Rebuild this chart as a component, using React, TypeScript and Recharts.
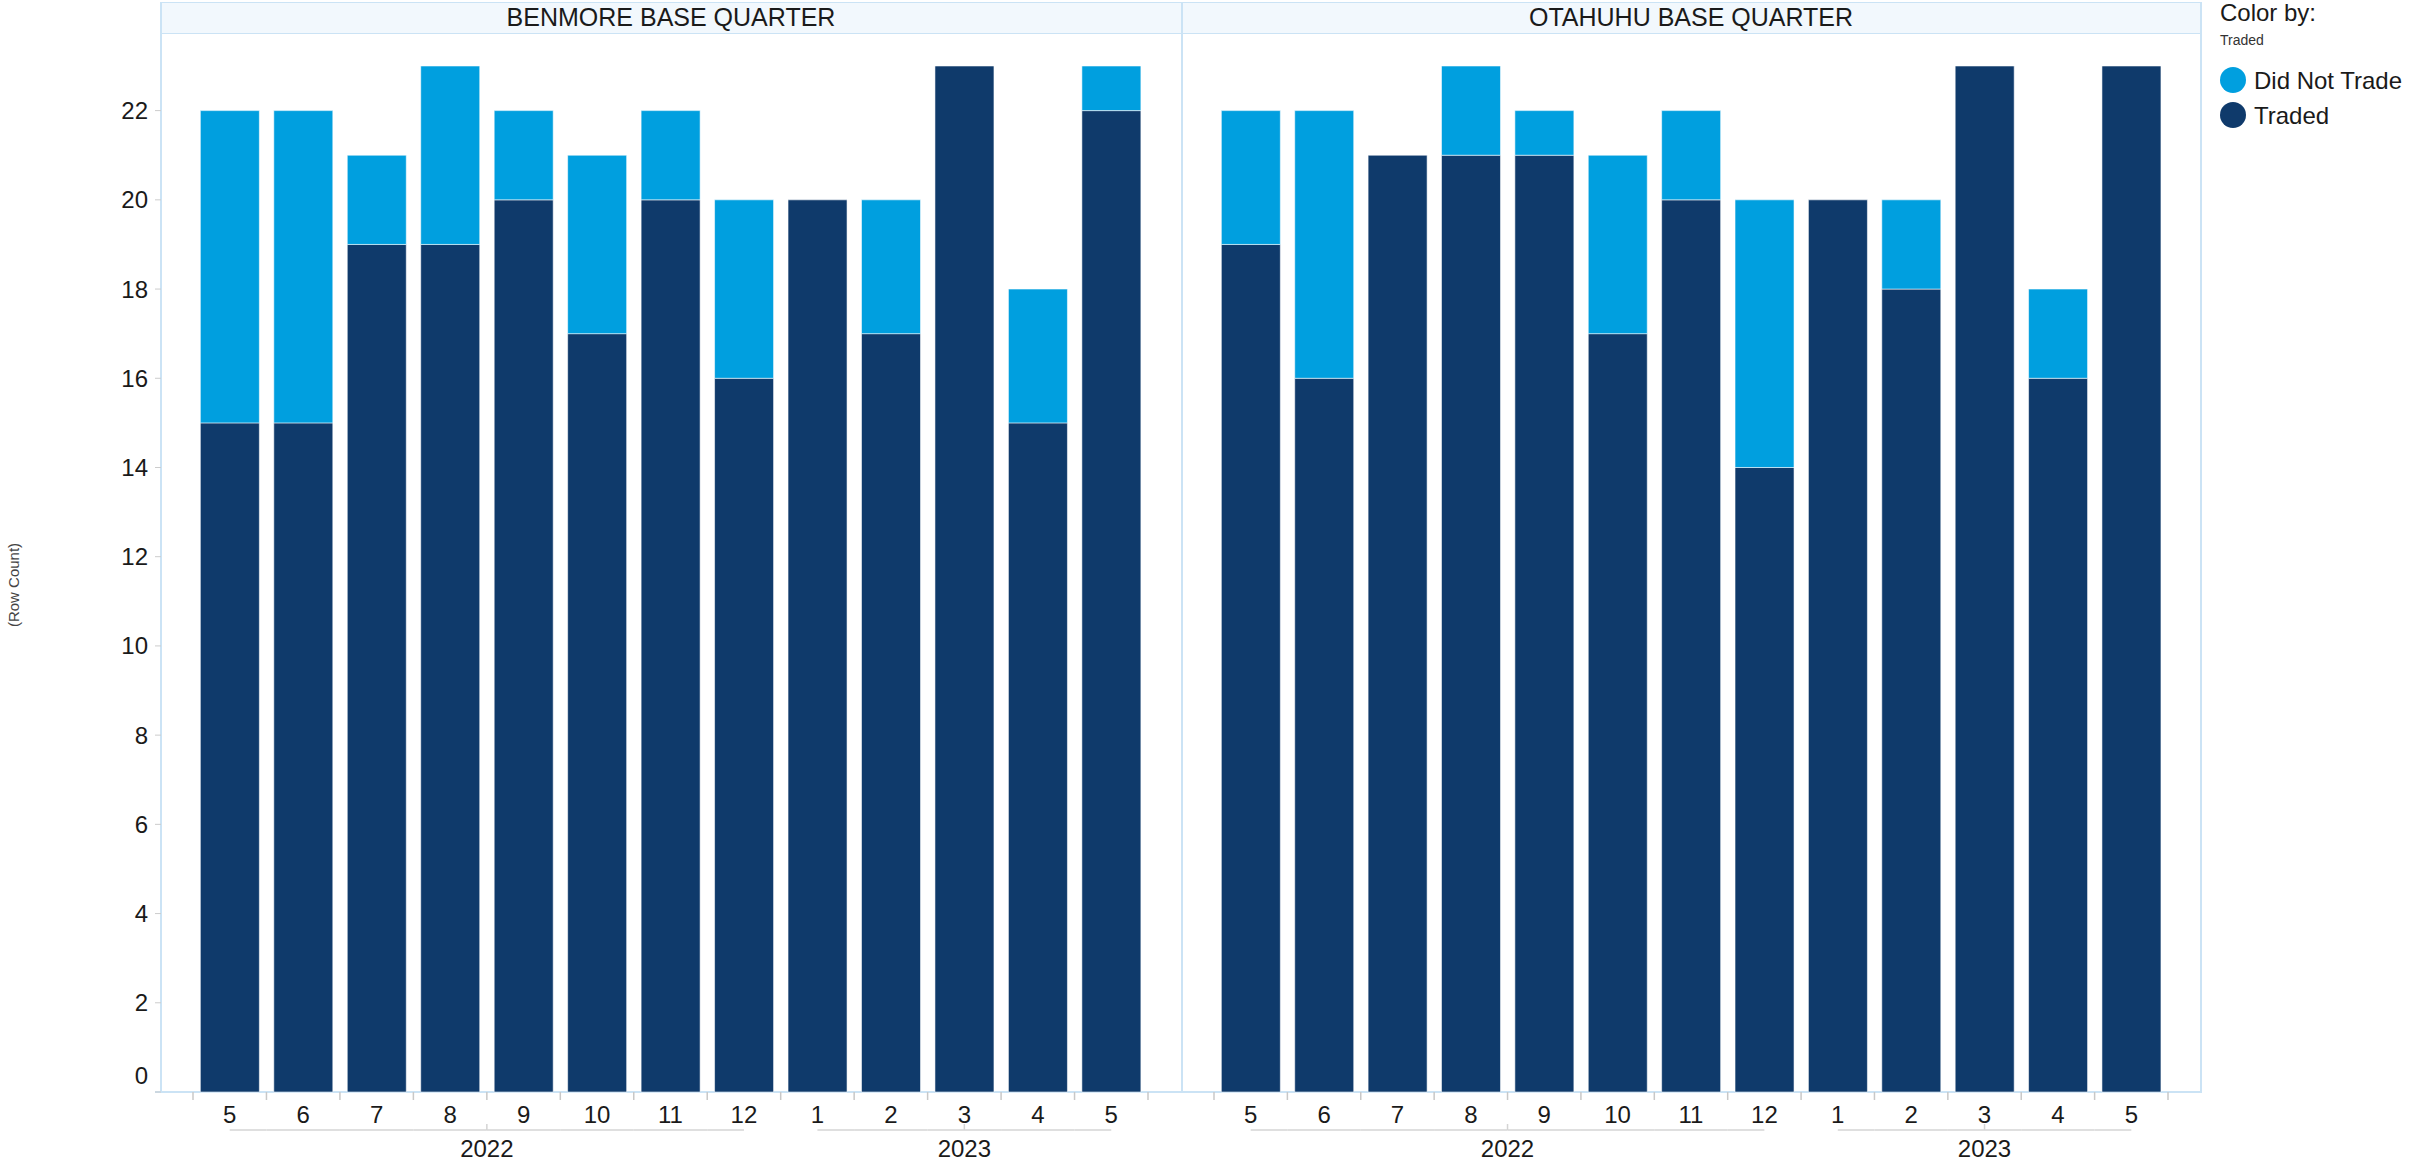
import React from 'react';
import { BarChart, Bar, XAxis, YAxis } from 'recharts';

const months = ['5', '6', '7', '8', '9', '10', '11', '12', '1', '2', '3', '4', '5'];
const years = ['2022', '2022', '2022', '2022', '2022', '2022', '2022', '2022', '2023', '2023', '2023', '2023', '2023'];
const benmoreTraded = [15, 15, 19, 19, 20, 17, 20, 16, 20, 17, 23, 15, 22];
const benmoreNotTraded = [7, 7, 2, 4, 2, 4, 2, 4, 0, 3, 0, 3, 1];
const otahuhuTraded = [19, 16, 21, 21, 21, 17, 20, 14, 20, 18, 23, 16, 23];
const otahuhuNotTraded = [3, 6, 0, 2, 1, 4, 2, 6, 0, 2, 0, 2, 0];
const yTicks = [0, 2, 4, 6, 8, 10, 12, 14, 16, 18, 20, 22];
const panelTitles = ['BENMORE BASE QUARTER', 'OTAHUHU BASE QUARTER'];
const legendItems = ['Did Not Trade', 'Traded'];

const DARK = '#0f3a6b';
const LIGHT = '#009fdf';
const BORDER = '#cbe3f5';
const FONT = '"Liberation Sans", Arial, Helvetica, sans-serif';

const buildRows = (traded: number[], notTraded: number[]) =>
  months.map((m, i) => ({
    key: `${years[i]}-${m}-${i}`,
    month: m,
    year: years[i],
    traded: traded[i],
    notTraded: notTraded[i],
  }));

const benmoreData = buildRows(benmoreTraded, benmoreNotTraded);
const otahuhuData = buildRows(otahuhuTraded, otahuhuNotTraded);

const CHART_H = 1163;
const TOP = 33;
const X_AXIS_H = 71;

function makeXTick(band: number) {
  return (props: any) => {
    const { x, y, index } = props;
    const i = index as number;
    const n = months.length;
    const yr = years[i];
    const firstOfYear = i === 0 || years[i - 1] !== yr;
    const lastOfYear = i === n - 1 || years[i + 1] !== yr;
    let groupStart = i;
    while (groupStart > 0 && years[groupStart - 1] === yr) groupStart--;
    let groupEnd = i;
    while (groupEnd < n - 1 && years[groupEnd + 1] === yr) groupEnd++;
    const count = groupEnd - groupStart + 1;
    const bx1 = firstOfYear ? x : x - band / 2;
    const bx2 = lastOfYear ? x : x + band / 2;
    const midX = x + ((count - 1) / 2) * band;
    return (
      <g>
        <line x1={x - band / 2} x2={x - band / 2} y1={y} y2={y + 8} stroke="#c8c8c8" strokeWidth={1.5} />
        {i === n - 1 && (
          <line x1={x + band / 2} x2={x + band / 2} y1={y} y2={y + 8} stroke="#c8c8c8" strokeWidth={1.5} />
        )}
        <text x={x} y={y + 31} textAnchor="middle" fontSize={24} fill="#1a1a1a" fontFamily={FONT}>
          {months[i]}
        </text>
        <line x1={bx1} x2={bx2} y1={y + 38} y2={y + 38} stroke="#d4d4d4" strokeWidth={1.5} />
        {firstOfYear && (
          <g>
            <line x1={midX} x2={midX} y1={y + 32} y2={y + 38} stroke="#d4d4d4" strokeWidth={1.5} />
            <text x={midX} y={y + 65} textAnchor="middle" fontSize={24} fill="#1a1a1a" fontFamily={FONT}>
              {yr}
            </text>
          </g>
        )}
      </g>
    );
  };
}

const YTick = (props: any) => {
  const { x, y, payload } = props;
  const v = payload.value;
  return (
    <text
      x={x}
      y={v === 0 ? y - 17 : y}
      textAnchor="end"
      dominantBaseline="central"
      fontSize={24}
      fill="#1a1a1a"
      fontFamily={FONT}
    >
      {v}
    </text>
  );
};

function Panel({ data, width, left, showY, padL, padR }: any) {
  const yW = showY ? 161 : 0;
  const band = (width - yW - padL - padR) / months.length;
  return (
    <div style={{ position: 'absolute', left, top: 0 }}>
      <BarChart
        width={width}
        height={CHART_H}
        data={data}
        margin={{ top: TOP, right: 0, bottom: 0, left: 0 }}
        barCategoryGap="10%"
      >
        <XAxis
          dataKey="key"
          height={X_AXIS_H}
          padding={{ left: padL, right: padR }}
          axisLine={false}
          tickLine={false}
          tickSize={0}
          tickMargin={0}
          interval={0}
          tick={makeXTick(band)}
        />
        <YAxis
          hide={!showY}
          width={yW}
          domain={[0, 23.74]}
          ticks={yTicks}
          interval={0}
          axisLine={false}
          tickSize={6}
          tickMargin={7}
          tickLine={{ stroke: '#cccccc' }}
          tick={<YTick />}
        />
        <Bar dataKey="traded" stackId="a" fill={DARK} stroke="#ffffff" strokeOpacity={0.55} strokeWidth={1} isAnimationActive={false} />
        <Bar dataKey="notTraded" stackId="a" fill={LIGHT} stroke="#ffffff" strokeOpacity={0.55} strokeWidth={1} isAnimationActive={false} />
      </BarChart>
    </div>
  );
}

export default function App() {
  const colors = [LIGHT, DARK];
  return (
    <div style={{ position: 'absolute', left: 0, top: 0, width: 2412, height: 1163, background: '#ffffff', fontFamily: FONT }}>
      {/* header band */}
      <div
        style={{
          position: 'absolute',
          left: 161,
          top: 2,
          width: 2040,
          height: 30,
          background: '#f2f8fd',
          borderTop: `1px solid ${BORDER}`,
          borderBottom: `1px solid ${BORDER}`,
        }}
      />
      {/* vertical panel borders */}
      {[161, 1182, 2201].map((x) => (
        <div key={x} style={{ position: 'absolute', left: x - 1, top: 2, width: 1.5, height: 1091, background: BORDER }} />
      ))}
      {/* x axis line */}
      <div style={{ position: 'absolute', left: 155, top: 1091, width: 2047, height: 1.5, background: BORDER }} />

      <Panel data={benmoreData} width={1182} left={0} showY={true} padL={32} padR={34} />
      <Panel data={otahuhuData} width={1019} left={1182} showY={false} padL={32} padR={33} />

      <svg width={2412} height={1163} style={{ position: 'absolute', left: 0, top: 0, pointerEvents: 'none' }}>
        <text x={671} y={26} textAnchor="middle" fontSize={25} fill="#1a1a1a" fontFamily={FONT}>
          {panelTitles[0]}
        </text>
        <text x={1691} y={26} textAnchor="middle" fontSize={25} fill="#1a1a1a" fontFamily={FONT}>
          {panelTitles[1]}
        </text>
        <text
          x={13}
          y={585}
          transform="rotate(-90 13 585)"
          textAnchor="middle"
          dominantBaseline="central"
          fontSize={15}
          fill="#444"
          fontFamily={FONT}
        >
          (Row Count)
        </text>
        <text x={2220} y={21} fontSize={24} fill="#1a1a1a" fontFamily={FONT}>
          Color by:
        </text>
        <text x={2220} y={45} fontSize={14} fill="#333" fontFamily={FONT}>
          Traded
        </text>
        {legendItems.map((item, i) => (
          <g key={item}>
            <circle cx={2233} cy={80 + i * 35} r={13} fill={colors[i]} />
            <text x={2254} y={80 + i * 35} dominantBaseline="central" fontSize={24} fill="#1a1a1a" fontFamily={FONT}>
              {item}
            </text>
          </g>
        ))}
      </svg>
    </div>
  );
}
